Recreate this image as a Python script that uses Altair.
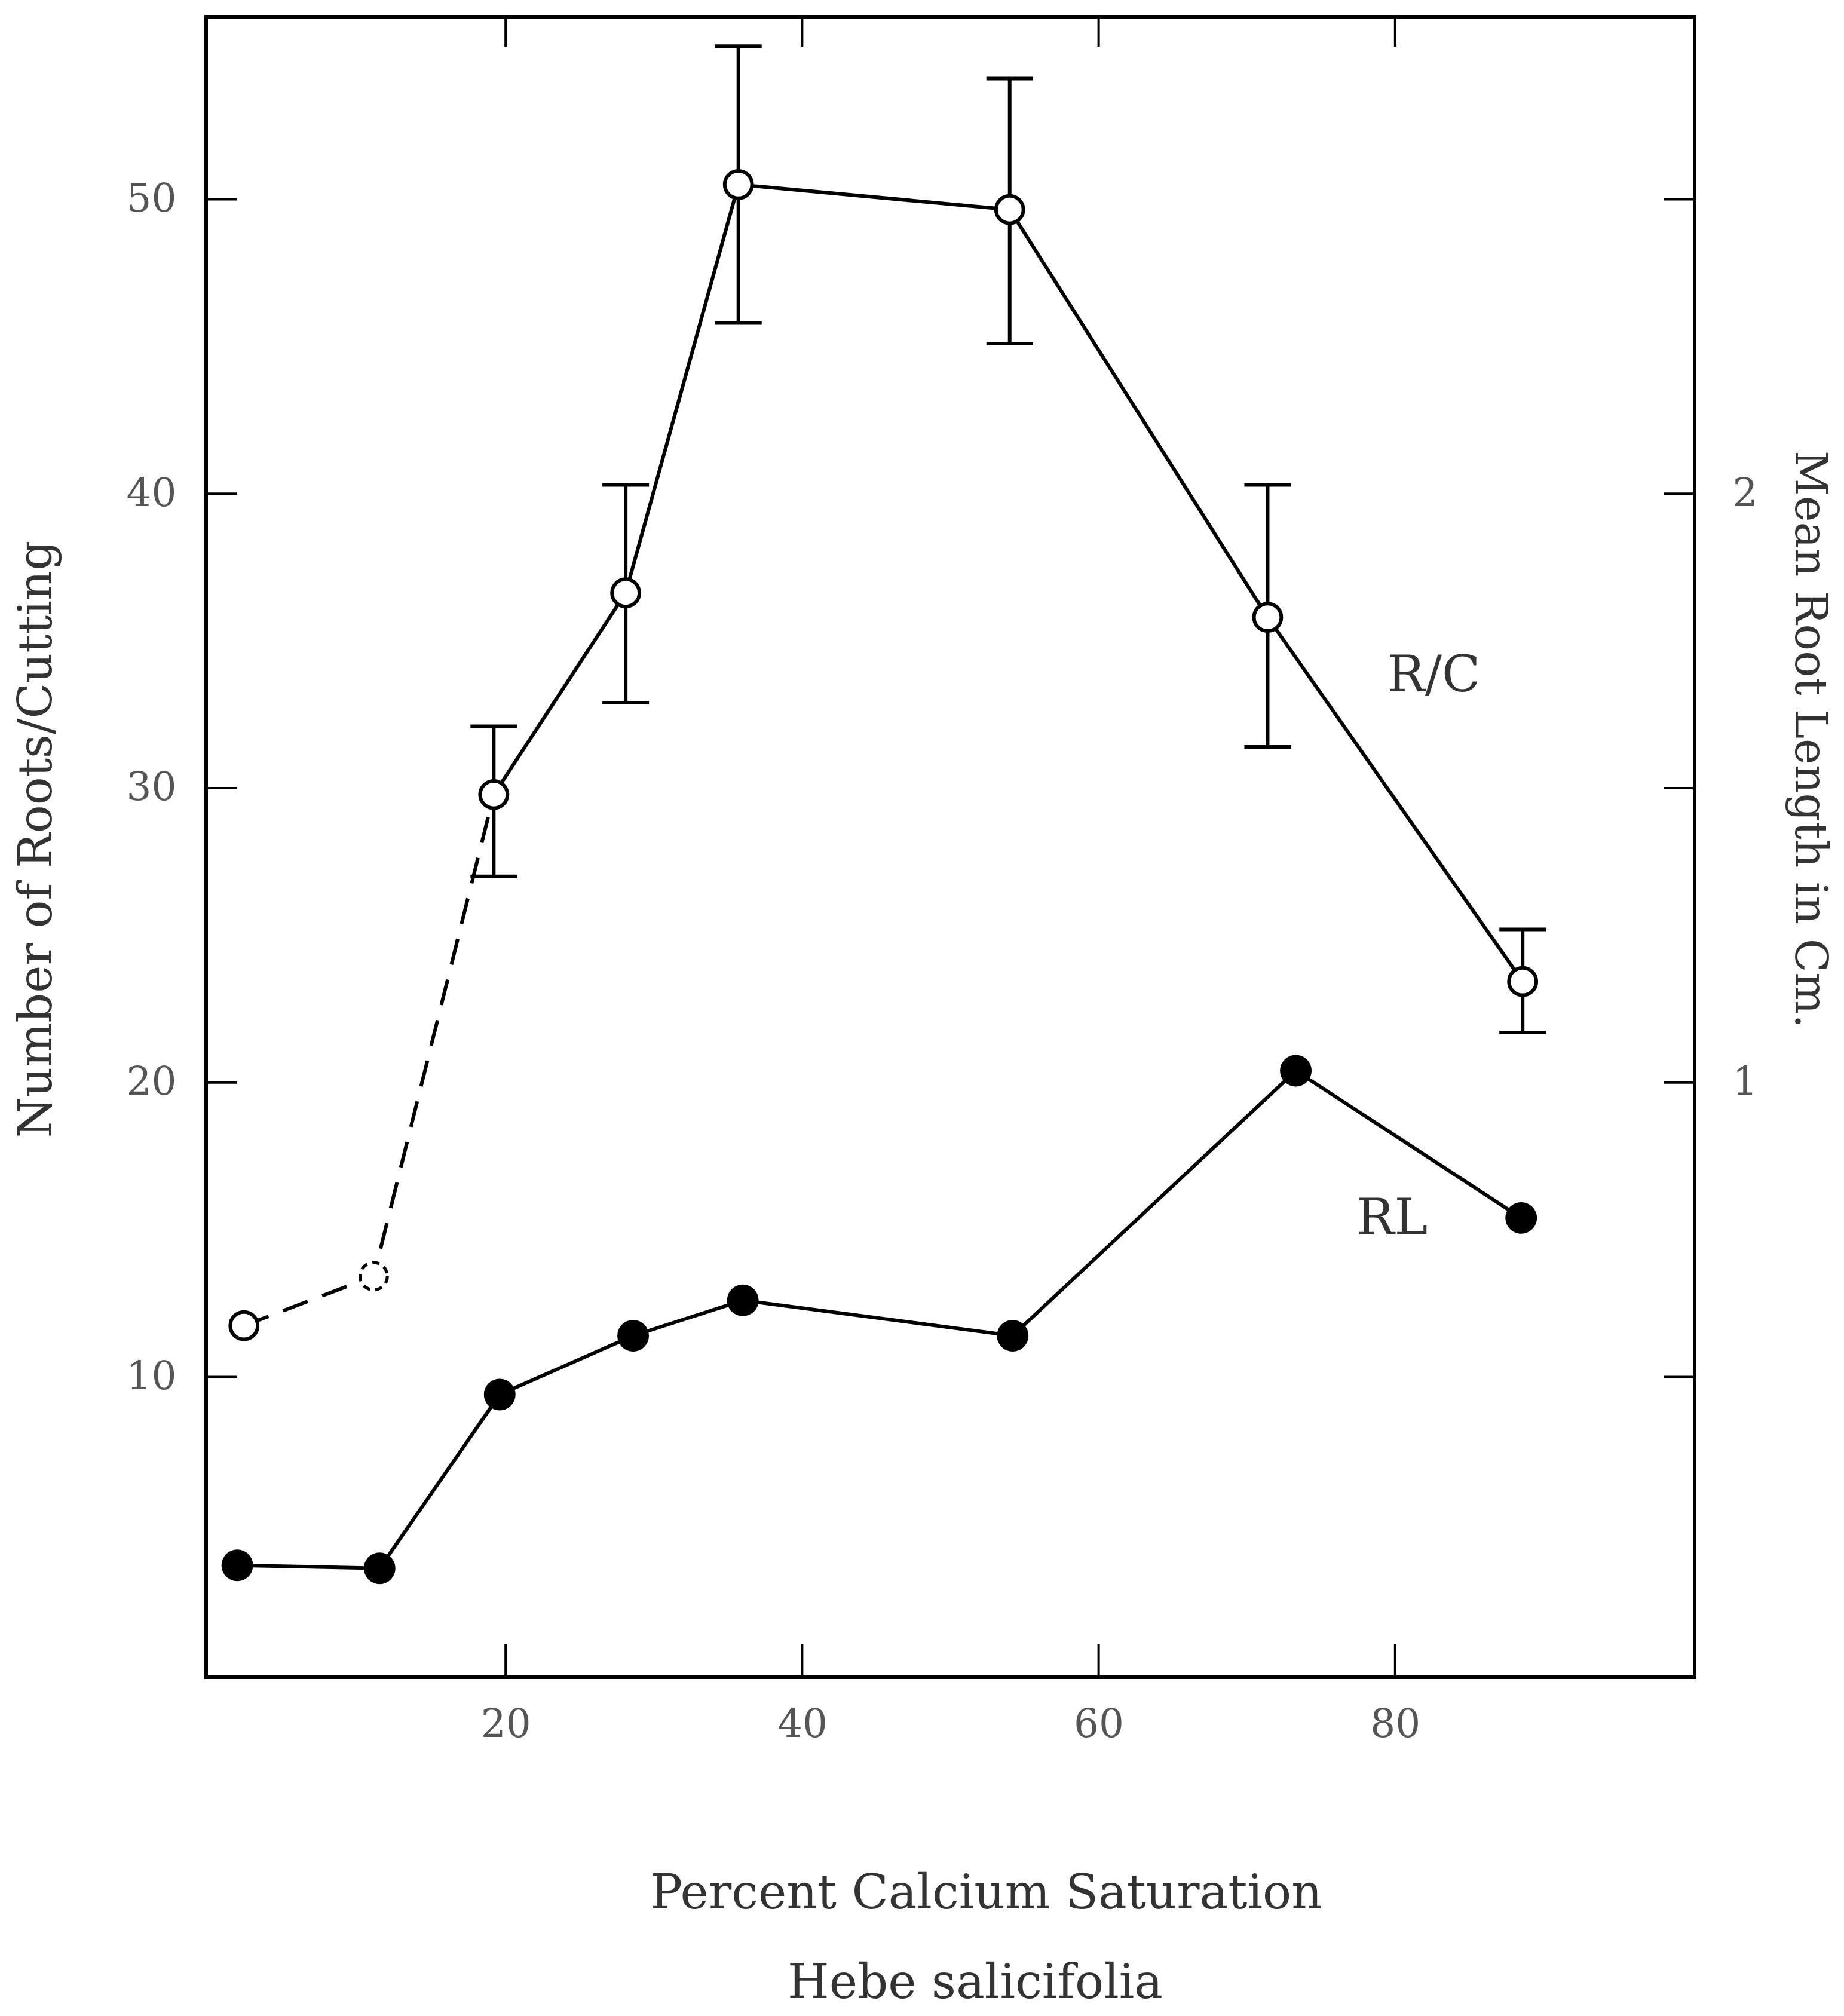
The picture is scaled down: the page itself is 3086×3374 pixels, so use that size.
import altair as alt
import pandas as pd

# ---- data ----
# R/C : number of roots per cutting (left axis), open circles
x_rc = [2.35, 11.1, 19.2, 28.1, 35.7, 54.0, 71.4, 88.6]
rc = [11.74, 13.42, 29.78, 36.63, 50.5, 49.65, 35.8, 23.43]
# error bars (only for the points that carry them)
x_err = [19.2, 28.1, 35.7, 54.0, 71.4, 88.6]
rc_lo = [27.0, 32.9, 45.8, 45.1, 31.4, 21.7]
rc_hi = [32.1, 40.3, 55.2, 54.1, 40.3, 25.2]
# RL : mean root length in cm (right axis), filled circles
x_rl = [1.9, 11.5, 19.6, 28.6, 36.0, 54.2, 73.3, 88.5]
rl = [0.18, 0.175, 0.47, 0.57, 0.63, 0.57, 1.02, 0.77]

left_ticks = [10, 20, 30, 40, 50]
right_labels = [1, 2]
x_ticks = [20, 40, 60, 80]

W, H = 2491, 2779
FONT = "DejaVu Serif"
LW = 6

xs = alt.Scale(domain=[-0.2, 100.2], nice=False, zero=False)
ys = alt.Scale(domain=[-0.2, 56.2], nice=False, zero=False)
ys_r = alt.Scale(domain=[-0.01, 2.81], nice=False, zero=False)

rc_df = pd.DataFrame({"x": x_rc, "y": rc})
err_df = pd.DataFrame({"x": x_err, "lo": rc_lo, "hi": rc_hi})
rl_df = pd.DataFrame({"x": x_rl, "y": rl})
lt_df = pd.DataFrame({"v": left_ticks})
xt_df = pd.DataFrame({"v": x_ticks})

dashed_df = rc_df.iloc[:3]
solid_df = rc_df.iloc[2:]
open_df = rc_df.drop(index=1)
open_dashed_df = rc_df.iloc[[1]]

# the same x axis object is given to every layer so that the shared axis merges cleanly
x_axis = alt.Axis(values=x_ticks, labelPadding=47, labelAngle=0, ticks=False, domain=False, grid=False,
                  title="Percent Calcium Saturation", titleX=1305, titleY=386, titleFontSize=80,
                  titleAlign="center", titleBaseline="alphabetic", titleAngle=0)
y_axis = alt.Axis(orient="left", values=left_ticks, labelPadding=50, ticks=False, domain=False, grid=False,
                  title="Number of Roots/Cutting", titleAngle=270, titleFontSize=78,
                  titleX=-283, titleY=1376, titleAlign="center", titleBaseline="middle")
yr_axis = alt.Axis(orient="right", values=right_labels, labelPadding=63, format="d",
                   ticks=False, domain=False, grid=False,
                   title="Mean Root Length in Cm.", titleAngle=90, titleFontSize=74,
                   titleX=190, titleY=1209, titleAlign="center", titleBaseline="middle")


def X(field="x"):
    return alt.X(field + ":Q", scale=xs, axis=x_axis)


def Y(field="y", axis=None, scale=ys):
    return alt.Y(field + ":Q", scale=scale, axis=axis)


bottom_ticks = alt.Chart(xt_df).mark_rule(color="black", strokeWidth=4).encode(
    x=X("v"), y=alt.value(H), y2=alt.value(H - 55))
top_ticks = alt.Chart(xt_df).mark_rule(color="black", strokeWidth=4).encode(
    x=X("v"), y=alt.value(0), y2=alt.value(50))
lticks = alt.Chart(lt_df).mark_rule(color="black", strokeWidth=4).encode(
    y=Y("v"), x=alt.value(0), x2=alt.value(52))
rticks = alt.Chart(lt_df).mark_rule(color="black", strokeWidth=4).encode(
    y=Y("v"), x=alt.value(W - 52), x2=alt.value(W))

err_rule = alt.Chart(err_df).mark_rule(color="black", strokeWidth=LW).encode(
    x=X(), y=Y("lo"), y2="hi:Q")
cap_hi = alt.Chart(err_df).mark_tick(orient="horizontal", size=78, thickness=6,
                                     color="black", opacity=1).encode(x=X(), y=Y("hi"))
cap_lo = alt.Chart(err_df).mark_tick(orient="horizontal", size=78, thickness=6,
                                     color="black", opacity=1).encode(x=X(), y=Y("lo"))

line_dash = alt.Chart(dashed_df).mark_line(color="black", strokeWidth=LW, strokeDash=[44, 26]).encode(
    x=X(), y=Y())
line_solid = alt.Chart(solid_df).mark_line(color="black", strokeWidth=LW).encode(
    x=X(), y=Y(axis=y_axis))
open_pts = alt.Chart(open_df).mark_circle(fill="white", stroke="black", strokeWidth=6,
                                          size=2100, opacity=1).encode(x=X(), y=Y())
open_dash_pt = alt.Chart(open_dashed_df).mark_circle(fill="white", stroke="black", strokeWidth=5,
                                                     strokeDash=[12, 9], size=2100, opacity=1).encode(
    x=X(), y=Y())

lab_df = pd.DataFrame({"x": [82.6, 79.8], "y": [33.8, 15.35], "t": ["R/C", "RL"]})
labels = alt.Chart(lab_df).mark_text(font=FONT, fontSize=84, color="#333",
                                     align="center", baseline="middle").encode(
    x=X(), y=Y(), text="t:N")

species = alt.Chart(pd.DataFrame({"t": ["Hebe salicifolia"]})).mark_text(
    font=FONT, fontSize=80, color="#333", align="center", baseline="alphabetic").encode(
    x=alt.value(1287), y=alt.value(3316), text="t:N")

rl_line = alt.Chart(rl_df).mark_line(color="black", strokeWidth=LW).encode(
    x=X(), y=Y(axis=yr_axis, scale=ys_r))
rl_pts = alt.Chart(rl_df).mark_circle(color="black", size=2800, opacity=1).encode(
    x=X(), y=Y(scale=ys_r))

chart = alt.layer(
    line_solid, rl_line,
    bottom_ticks, top_ticks, lticks, rticks, line_dash,
    err_rule, cap_hi, cap_lo, open_pts, open_dash_pt, labels, species, rl_pts,
).resolve_scale(y="independent").properties(
    width=W, height=H,
    autosize=alt.AutoSizeParams(type="none"),
    padding={"left": 337, "top": 20, "right": 242, "bottom": 558},
    background="white",
).configure_view(stroke="black", strokeWidth=6).configure_axis(
    labelFont=FONT, labelFontSize=66, labelColor="#555",
    titleFont=FONT, titleColor="#333", titleFontWeight="normal",
)

chart.save("out.html", embed_options={"renderer": "svg", "actions": False})
